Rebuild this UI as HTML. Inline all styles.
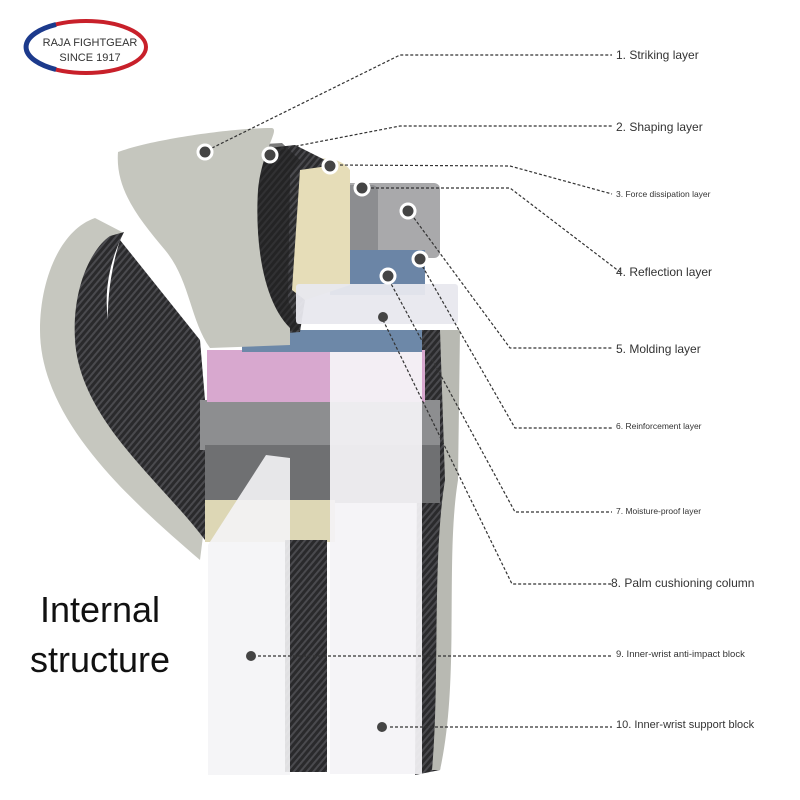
<!DOCTYPE html>
<html><head><meta charset="utf-8"><style>
html,body{margin:0;padding:0;background:#fff;}
svg{display:block;}
text{font-family:"Liberation Sans",sans-serif;}
</style></head><body>
<svg width="800" height="800" viewBox="0 0 800 800" xmlns="http://www.w3.org/2000/svg">
<defs>
<pattern id="mesh" width="5" height="5" patternUnits="userSpaceOnUse" patternTransform="rotate(40)">
<rect width="5" height="5" fill="#2a2a2c"/><rect width="2" height="5" fill="#4a4a4e"/>
</pattern>
</defs>
<rect width="800" height="800" fill="#fff"/>
<!-- logo -->
<ellipse cx="86" cy="47" rx="60" ry="26" fill="#fff" stroke="#c8202a" stroke-width="4"/>
<path d="M56 69.5 A60 26 0 0 1 56 24.5" fill="none" stroke="#1c3a8c" stroke-width="5"/>
<text x="90" y="46" font-size="11" text-anchor="middle" fill="#333">RAJA FIGHTGEAR</text>
<text x="90" y="61" font-size="11" text-anchor="middle" fill="#333">SINCE 1917</text>
<!-- thumb piece -->
<path d="M40 330 C40 280 60 230 95 218 L122 232 C95 260 80 300 95 360 C110 420 170 470 205 520 L200 560 C130 500 40 420 40 330 Z" fill="#c6c7bf"/>
<path d="M110 236 L124 232 C100 280 100 330 130 380 C160 430 195 470 215 520 L205 540 C160 480 80 420 75 340 C72 290 90 250 110 236Z" fill="url(#mesh)"/>
<path d="M120 240 L200 340 L215 520 L150 450 C110 400 95 320 120 240Z" fill="url(#mesh)"/>
<!-- right dark mesh -->
<path d="M418 330 L455 330 L450 500 C440 560 450 650 440 770 L415 775 Z" fill="url(#mesh)"/>
<path d="M440 330 L460 330 L458 480 C445 560 460 680 440 770 L432 770 C440 680 432 560 445 480 Z" fill="#b8b9b2"/>
<!-- body layers -->
<rect x="200" y="400" width="240" height="50" fill="#8d8e90"/>
<rect x="205" y="445" width="235" height="58" fill="#6f7072"/>
<rect x="205" y="500" width="130" height="42" fill="#ddd7b5"/>
<rect x="207" y="350" width="218" height="52" fill="#d8a8cf"/>
<rect x="242" y="330" width="180" height="22" fill="#6d88a8"/>
<rect x="285" y="540" width="42" height="232" fill="url(#mesh)"/>
<!-- top layers -->
<rect x="330" y="183" width="110" height="75" rx="6" fill="#a9a9ab"/>
<rect x="330" y="185" width="48" height="75" rx="6" fill="#8c8d90"/>
<rect x="330" y="250" width="95" height="45" fill="#6b85a6"/>
<path d="M300 168 C310 155 340 155 350 170 L350 285 L305 300 C290 300 290 290 292 280 Z" fill="#e6ddb8"/>
<path d="M250 150 L295 145 L335 165 L300 170 L292 290 L305 300 L300 332 L262 335 C245 300 250 200 250 150Z" fill="url(#mesh)"/>
<path d="M248 145 L282 143 L300 160 L290 175 L288 300 L300 330 L265 333 C248 300 250 200 248 145Z" fill="#222" opacity="0.6"/>
<path d="M118 152 C150 140 230 128 272 128 C280 130 262 150 258 190 C255 240 262 300 290 328 L290 345 L210 348 C190 320 190 280 165 250 C140 220 115 190 118 152Z" fill="#c5c6be"/>
<rect x="296" y="284" width="162" height="40" rx="3" fill="#e8e8ee" opacity="0.95"/>
<!-- translucent blocks -->
<rect x="330" y="352" width="92" height="422" fill="#f4f3f6" opacity="0.93"/>
<path d="M266 455 L290 458 L290 775 L208 775 L208 545 Z" fill="#f4f4f6" opacity="0.9"/>
<!-- connectors -->
<g fill="none" stroke="#333" stroke-width="1.2" stroke-dasharray="3,2">
<polyline points="212,148 400,55 612,55"/>
<polyline points="276,150 400,126 612,126"/>
<polyline points="335,165 510,166 612,194"/>
<polyline points="366,188 510,188 620,272"/>
<polyline points="411,214 510,348 612,348"/>
<polyline points="420,262 515,428 612,428"/>
<polyline points="389,280 515,512 612,512"/>
<polyline points="383,320 512,584 612,584"/>
<polyline points="258,656 612,656"/>
<polyline points="390,727 612,727"/>
</g>
<!-- dots -->
<g fill="#444" stroke="#fff" stroke-width="3">
<circle cx="205" cy="152" r="7"/><circle cx="270" cy="155" r="7"/><circle cx="330" cy="166" r="7"/>
<circle cx="362" cy="188" r="7"/><circle cx="408" cy="211" r="7"/><circle cx="420" cy="259" r="7"/>
<circle cx="388" cy="276" r="7"/>
</g>
<g fill="#444"><circle cx="383" cy="317" r="5"/><circle cx="251" cy="656" r="5"/><circle cx="382" cy="727" r="5"/></g>
<!-- labels -->
<g fill="#333" font-size="12">
<text x="616" y="59">1. Striking layer</text>
<text x="616" y="131">2. Shaping layer</text>
<text x="616" y="197" font-size="8.5">3. Force dissipation layer</text>
<text x="616" y="276">4. Reflection layer</text>
<text x="616" y="353">5. Molding layer</text>
<text x="616" y="429" font-size="8.5">6. Reinforcement layer</text>
<text x="616" y="514" font-size="8.5">7. Moisture-proof layer</text>
<text x="611" y="587">8. Palm cushioning column</text>
<text x="616" y="657" font-size="9.5">9. Inner-wrist anti-impact block</text>
<text x="616" y="728" font-size="11">10. Inner-wrist support block</text>
</g>
<text x="100" y="622" font-size="36" text-anchor="middle" fill="#111">Internal</text>
<text x="100" y="672" font-size="36" text-anchor="middle" fill="#111">structure</text>
</svg>
</body></html>
